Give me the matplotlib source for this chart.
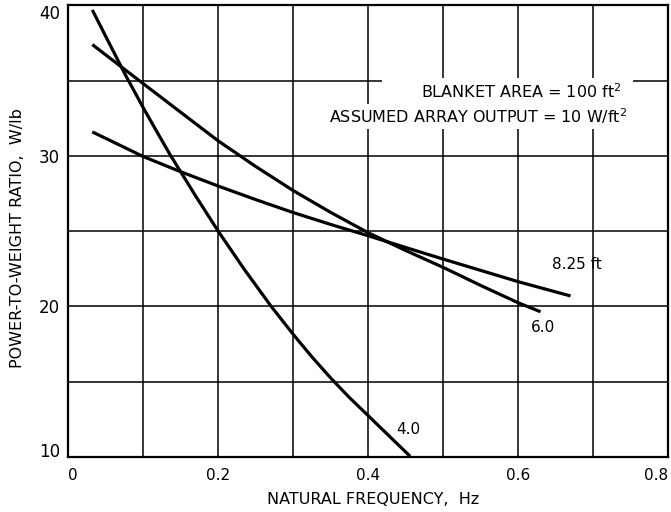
import matplotlib
matplotlib.use("Agg")
import matplotlib.pyplot as plt
from matplotlib.patches import Rectangle

# power-to-weight ratio vs natural frequency for three blanket widths
freq_40 = [0.032, 0.055, 0.076, 0.1, 0.12, 0.1356, 0.17, 0.2, 0.235, 0.27,
           0.3, 0.325, 0.35, 0.375, 0.4, 0.43, 0.456]
ratio_40 = [39.7, 37.45, 35.4, 33.2, 31.45, 30.1, 27.33, 25.0, 22.45, 20.05,
            18.15, 16.65, 15.25, 13.95, 12.75, 11.3, 10.05]

freq_60 = [0.032, 0.1, 0.15, 0.2, 0.25, 0.3, 0.35, 0.4, 0.45, 0.5, 0.55, 0.6, 0.63]
ratio_60 = [37.4, 34.8, 32.9, 31.0, 29.3, 27.7, 26.25, 24.9, 23.72, 22.6, 21.4, 20.25, 19.65]

freq_825 = [0.032, 0.1, 0.15, 0.2, 0.25, 0.3, 0.35, 0.4, 0.45, 0.5, 0.55, 0.6, 0.67]
ratio_825 = [31.6, 29.96, 28.95, 28.0, 27.1, 26.24, 25.45, 24.7, 23.92, 23.15, 22.4, 21.65, 20.7]

curve_labels = ["4.0", "6.0", "8.25 ft"]
label_pos = [(0.454, 11.8), (0.633, 18.6), (0.678, 22.8)]

xticks = [0, 0.2, 0.4, 0.6, 0.8]
xtick_labels = ["0", "0.2", "0.4", "0.6", "0.8"]
yticks = [10, 20, 30, 40]

plt.rcParams['font.family'] = 'DejaVu Sans'

fig = plt.figure(figsize=(6.71, 5.12), dpi=100)
ax = fig.add_axes([0.1018, 0.1074, 0.8937, 0.882])

# grid every 0.1 Hz and every 5 W/lb
for gx in [0.1, 0.2, 0.3, 0.4, 0.5, 0.6, 0.7]:
    ax.axvline(gx, color='black', lw=1.1, zorder=1)
for gy in [15, 20, 25, 30, 35]:
    ax.axhline(gy, color='black', lw=1.1, zorder=1)

for fx, ry in [(freq_40, ratio_40), (freq_60, ratio_60), (freq_825, ratio_825)]:
    ax.plot(fx, ry, color='black', lw=2.3, solid_capstyle='butt',
            solid_joinstyle='round', zorder=3)

for txt, (lx, ly) in zip(curve_labels, label_pos):
    ax.text(lx, ly, txt, ha='center', va='center', fontsize=11, zorder=4)

# note block, blanked out of the grid
ax.add_patch(Rectangle((0.419, 31.85), 0.334, 3.35, facecolor='white',
                       edgecolor='none', zorder=2))
ax.text(0.738, 33.88, "BLANKET AREA = 100 ft$^2$", ha='right', va='baseline',
        fontsize=11.5, zorder=5)
ax.text(0.746, 32.18, "ASSUMED ARRAY OUTPUT = 10 W/ft$^2$", ha='right', va='baseline',
        fontsize=11.5, zorder=5,
        bbox=dict(facecolor='white', edgecolor='none', pad=2))

ax.set_xlim(0, 0.8)
ax.set_ylim(10, 40)
ax.set_xticks(xticks)
ax.set_xticklabels(xtick_labels)
ax.set_yticks(yticks)
ax.tick_params(length=0)
ax.tick_params(axis='x', labelsize=11, pad=8)
ax.tick_params(axis='y', labelsize=12, pad=6)
xlabs = ax.get_xticklabels()
xlabs[0].set_ha('left')
xlabs[-1].set_ha('right')
ylabs = ax.get_yticklabels()
ylabs[0].set_va('baseline')
ylabs[-1].set_va('top')
for sp in ax.spines.values():
    sp.set_linewidth(1.6)

ax.set_xlabel("NATURAL FREQUENCY,  Hz", fontsize=11.5)
ax.xaxis.set_label_coords(0.508, -0.078)
ax.set_ylabel("POWER-TO-WEIGHT RATIO,  W/lb", fontsize=11.5)
ax.yaxis.set_label_coords(-0.072, 0.485)

fig.savefig("out.png", dpi=100)
